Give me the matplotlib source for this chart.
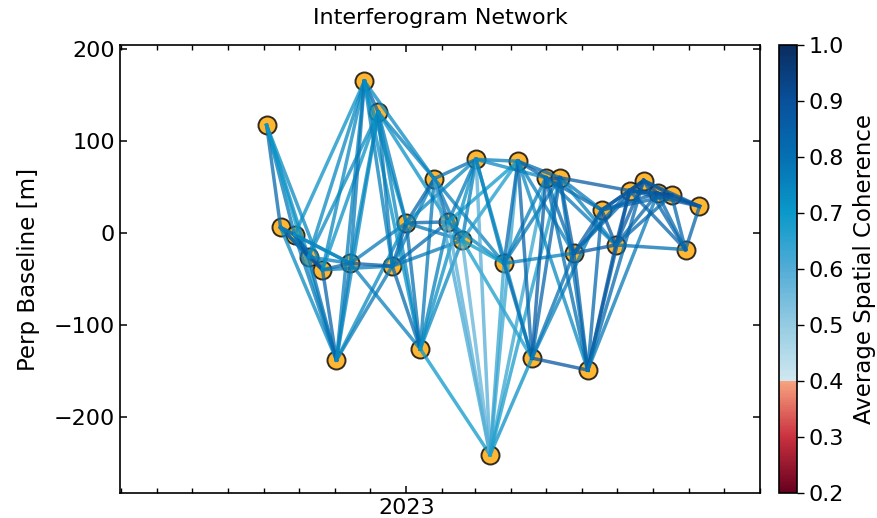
import numpy as np
import pandas as pd
import matplotlib
matplotlib.use('Agg')
import matplotlib.pyplot as plt
import matplotlib.dates as mdates
from matplotlib.colors import ListedColormap, LinearSegmentedColormap, Normalize
from matplotlib.colorbar import ColorbarBase

# acquisition dates (12-day repeat) and perpendicular baselines [m]
dates = ['2022-09-03', '2022-09-15', '2022-09-27', '2022-10-09', '2022-10-21',
         '2022-11-02', '2022-11-14', '2022-11-26', '2022-12-08', '2022-12-20',
         '2023-01-01', '2023-01-13', '2023-01-25', '2023-02-06', '2023-02-18',
         '2023-03-02', '2023-03-14', '2023-03-26', '2023-04-07', '2023-04-19',
         '2023-05-01', '2023-05-13', '2023-05-25', '2023-06-06', '2023-06-18',
         '2023-06-30', '2023-07-12', '2023-07-24', '2023-08-05', '2023-08-17',
         '2023-08-29', '2023-09-10']
pbase = [117, 6, -2, -26, -40, -138, -33, 165, 131, -36,
         11, -126, 59, 12, -8, 80, -241, -33, 78, -136,
         60, 60, -22, -149, 25, -13, 46, 57, 43, 41,
         -18, 29]

# average spatial coherence of pairs (i, i+1 ... i+5), one row per reference date
coh_rows = [
    [0.82, 0.78, 0.74, 0.74, 0.70],
    [0.90, 0.86, 0.82, 0.74, 0.76],
    [0.88, 0.84, 0.78, 0.74, 0.72],
    [0.90, 0.80, 0.76, 0.74, 0.74],
    [0.84, 0.84, 0.74, 0.72, 0.76],
    [0.82, 0.76, 0.74, 0.78, 0.74],
    [0.78, 0.74, 0.86, 0.78, 0.76],
    [0.84, 0.76, 0.74, 0.72, 0.74],
    [0.78, 0.76, 0.74, 0.76, 0.72],
    [0.84, 0.82, 0.76, 0.82, 0.78],
    [0.80, 0.84, 0.84, 0.78, 0.74],
    [0.78, 0.76, 0.74, 0.72, 0.70],
    [0.82, 0.78, 0.80, 0.62, 0.76],
    [0.80, 0.78, 0.60, 0.74, 0.70],
    [0.76, 0.58, 0.70, 0.68, 0.68],
    [0.60, 0.78, 0.76, 0.74, 0.74],
    [0.64, 0.64, 0.72, 0.64, 0.68],
    [0.82, 0.80, 0.76, 0.78, 0.76],
    [0.84, 0.84, 0.82, 0.76, 0.74],
    [0.86, 0.84, 0.80, 0.88, 0.76],
    [0.90, 0.82, 0.80, 0.84, 0.78],
    [0.86, 0.80, 0.78, 0.76, 0.86],
    [0.84, 0.86, 0.88, 0.84, 0.82],
    [0.82, 0.90, 0.86, 0.82, 0.78],
    [0.88, 0.90, 0.86, 0.84, 0.82],
    [0.88, 0.86, 0.84, 0.82, 0.80],
    [0.92, 0.90, 0.88, 0.84, 0.86],
    [0.92, 0.90, 0.84, 0.86],
    [0.92, 0.82, 0.88],
    [0.82, 0.88],
    [0.84],
]

cbar_ticks = [0.2, 0.3, 0.4, 0.5, 0.6, 0.7, 0.8, 0.9, 1.0]

# truncated red / blue colormap, split at 0.4
reds = LinearSegmentedColormap.from_list('r', ['#67001f', '#c9313f', '#f7a27f'])
blues = LinearSegmentedColormap.from_list(
    'b', ['#cfe7f0', '#93cbe2', '#52acd6', '#0a99ca', '#0570b3', '#08519c', '#0a2d60'])
cmap = ListedColormap(np.vstack([reds(np.linspace(0, 1, 64)),
                                 blues(np.linspace(0, 1, 192))]))
norm = Normalize(vmin=0.2, vmax=1.0)

plt.rcParams['font.family'] = 'DejaVu Sans'
fig = plt.figure(figsize=(8.78, 5.18), dpi=100)
ax = fig.add_axes([0.1367, 0.0483, 0.7289, 0.8648])
cax = fig.add_axes([0.8872, 0.0483, 0.0205, 0.8648])

d = pd.to_datetime(dates)
ax.plot(d, pbase, 'o', ms=13, mfc='orange', mec='k', mew=1.4, alpha=0.8, ls='none')

for i, row in enumerate(coh_rows):
    for k, c in enumerate(row, start=1):
        j = i + k
        ax.plot([d[i], d[j]], [pbase[i], pbase[j]], '-', lw=2.5,
                color=cmap(norm(c)), alpha=0.75)

ax.set_xlim(pd.Timestamp('2022-04-30'), pd.Timestamp('2023-11-01'))
ax.set_ylim(-282.6, 204.3)
ax.xaxis.set_major_locator(mdates.YearLocator())
ax.xaxis.set_major_formatter(mdates.DateFormatter('%Y'))
ax.xaxis.set_minor_locator(mdates.MonthLocator())
ax.set_yticks([-200, -100, 0, 100, 200])
ax.tick_params(which='both', direction='in', top=True, right=True, labelsize=16)
ax.tick_params(which='major', length=5, width=1.1)
ax.tick_params(which='minor', length=3.5, width=1.0)
for s in ax.spines.values():
    s.set_linewidth(1.2)
ax.set_ylabel('Perp Baseline [m]', fontsize=16.5, labelpad=10)
ax.set_title('Interferogram Network', fontsize=16, pad=15)

cb = ColorbarBase(cax, cmap=cmap, norm=norm, ticks=cbar_ticks)
cb.ax.set_yticklabels([f'{t:.1f}' for t in cbar_ticks])
cb.ax.tick_params(labelsize=16, length=5, width=1.0)
cb.outline.set_linewidth(1.2)
cb.set_label('Average Spatial Coherence', fontsize=16.5, labelpad=6)

fig.savefig('out.png', dpi=100)
